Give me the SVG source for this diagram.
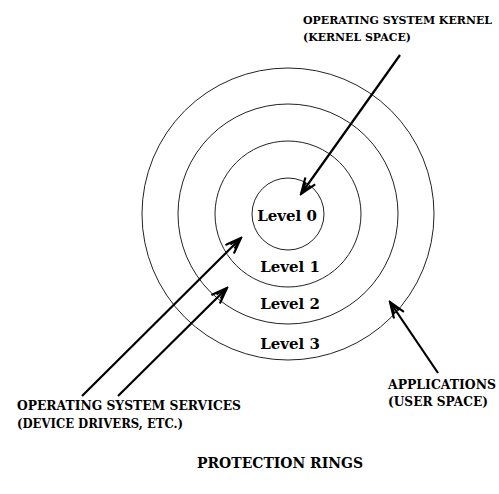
<svg xmlns="http://www.w3.org/2000/svg" width="499" height="494" viewBox="0 0 499 494">
  <style>
    .ring { fill: none; stroke: #222; stroke-width: 1; }
    .arrow { fill: none; stroke: #000; stroke-width: 2.2; }
    .head { fill: none; stroke: #000; stroke-width: 2.2; stroke-linejoin: miter; }
    .lbl { font-family: "DejaVu Serif", "Liberation Serif", serif; font-weight: bold; fill: #000; }
    .small { font-size: 12px; }
    .top { font-size: 11.2px; }
    .lvl { font-size: 15px; }
    .title { font-size: 15px; }
  </style>
  <defs>
    <marker id="vhead" viewBox="0 0 20 14" refX="18" refY="7" markerWidth="20" markerHeight="14" markerUnits="userSpaceOnUse" orient="auto">
      <path class="head" d="M2,1 L18,7 L2,13 M6,4 L18,7 L6,10"/>
    </marker>
  </defs>
  <rect width="499" height="494" fill="#fff"/>

  <g id="rings">
    <circle class="ring" cx="288" cy="214" r="146"/>
    <circle class="ring" cx="288" cy="214" r="110"/>
    <circle class="ring" cx="288" cy="214" r="73"/>
    <circle class="ring" cx="288" cy="214" r="36"/>
  </g>

  <g id="level0"><text class="lbl lvl" x="287" y="221" text-anchor="middle">Level 0</text></g>
  <g id="level1"><text class="lbl lvl" x="290" y="272" text-anchor="middle">Level 1</text></g>
  <g id="level2"><text class="lbl lvl" x="290" y="309" text-anchor="middle">Level 2</text></g>
  <g id="level3"><text class="lbl lvl" x="290" y="349" text-anchor="middle">Level 3</text></g>

  <g id="kernel-label">
    <text class="lbl top" x="303" y="24" textLength="189" lengthAdjust="spacingAndGlyphs">OPERATING SYSTEM KERNEL</text>
    <text class="lbl top" x="303" y="41" textLength="108" lengthAdjust="spacingAndGlyphs">(KERNEL SPACE)</text>
  </g>
  <g id="services-label">
    <text class="lbl small" x="17" y="410" textLength="224" lengthAdjust="spacingAndGlyphs">OPERATING SYSTEM SERVICES</text>
    <text class="lbl small" x="17" y="428" textLength="166" lengthAdjust="spacingAndGlyphs">(DEVICE DRIVERS, ETC.)</text>
  </g>
  <g id="apps-label">
    <text class="lbl small" x="388" y="389" textLength="108" lengthAdjust="spacingAndGlyphs">APPLICATIONS</text>
    <text class="lbl small" x="388" y="406" textLength="100" lengthAdjust="spacingAndGlyphs">(USER SPACE)</text>
  </g>
  <g id="title">
    <text class="lbl title" x="197" y="468" textLength="166" lengthAdjust="spacingAndGlyphs">PROTECTION RINGS</text>
  </g>

  <g id="connectors">
    <line class="arrow" x1="400" y1="55" x2="301" y2="194" marker-end="url(#vhead)"/>
    <line class="arrow" x1="82" y1="396" x2="241" y2="238" marker-end="url(#vhead)"/>
    <line class="arrow" x1="118" y1="396" x2="227" y2="288" marker-end="url(#vhead)"/>
    <line class="arrow" x1="438" y1="373" x2="390" y2="302" marker-end="url(#vhead)"/>
  </g>
</svg>
